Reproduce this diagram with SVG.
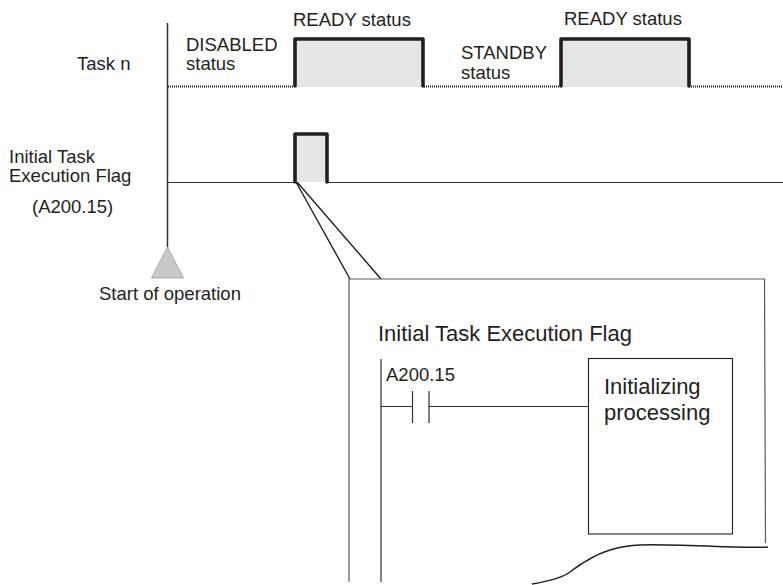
<svg xmlns="http://www.w3.org/2000/svg" width="783" height="585" viewBox="0 0 783 585">
<style>
text{font-family:"Liberation Sans",Arial,sans-serif;font-size:18.5px;fill:#231f20}
.big{font-size:22px}
.pulse{fill:none;stroke:#231f20;stroke-width:3.6;stroke-linejoin:round;stroke-linecap:round}
.shade{fill:#e5e6e7;stroke:none}
.thin{fill:none;stroke:#333132;stroke-width:1.2}
.dot{fill:none;stroke:#231f20;stroke-width:2;stroke-dasharray:1 1}
</style>
<rect width="783" height="585" fill="#fff"/>
<g id="connectors">
<path class="thin" style="stroke-width:1.5" d="M167.500 23V247"/>
<path class="dot" d="M168 86.500H294M424 86.500H560M689 86.500H783"/>
<path class="thin" d="M168 182.500H294M328 182.500H783"/>
<path class="thin" style="stroke:#231f20;stroke-width:1.4" d="M296 182L350 279M297 182L381 279"/>
</g>
<g id="task-n-pulse-1">
<rect class="shade" x="296" y="39" width="127" height="48"/>
<path class="pulse" d="M295 86V39H423V86"/>
</g>
<g id="task-n-pulse-2">
<rect class="shade" x="562" y="39" width="127" height="48"/>
<path class="pulse" d="M561 86V39H689V86"/>
</g>
<g id="flag-pulse">
<rect class="shade" x="296" y="134" width="31" height="48"/>
<path class="pulse" d="M295 182V134H327V182"/>
</g>
<g id="start-triangle">
<path d="M167.500 247L183.500 278H151.500Z" fill="#c7c8ca" stroke="#a7a9ac" stroke-width="1"/>
</g>
<g id="labels">
<text x="77" y="70">Task n</text>
<text x="186" y="51">DISABLED</text>
<text x="186" y="70">status</text>
<text x="293" y="26">READY status</text>
<text x="461" y="59">STANDBY</text>
<text x="461" y="78.500">status</text>
<text x="564" y="25">READY status</text>
<text x="9" y="163">Initial Task</text>
<text x="9" y="182">Execution Flag</text>
<text x="32" y="213">(A200.15)</text>
<text x="99" y="300">Start of operation</text>
</g>
<g id="detail-frame">
<path fill="none" stroke="#58595b" stroke-width="1.2" d="M349 582V279H764.500L765.500 543"/>
<path fill="none" stroke="#231f20" stroke-width="1.5" d="M532 584C550 581 562 578 570 572C578 566 582 563 588 560C604 550 620 546 640 545C665 544 685 546 707 546C730 547 750 548 768 547"/>
</g>
<g id="ladder">
<text class="big" x="378" y="341">Initial Task Execution Flag</text>
<path class="thin" d="M381 359V582M381 406.500H412.500M412.500 391V423M429 391V423M429 406.500H589"/>
<text x="386" y="381">A200.15</text>
</g>
<g id="initializing-processing">
<rect x="588.500" y="358.500" width="144" height="175.500" fill="#fff" stroke="#231f20" stroke-width="1.1"/>
<text class="big" x="604" y="394">Initializing</text>
<text class="big" x="604" y="420">processing</text>
</g>
</svg>
